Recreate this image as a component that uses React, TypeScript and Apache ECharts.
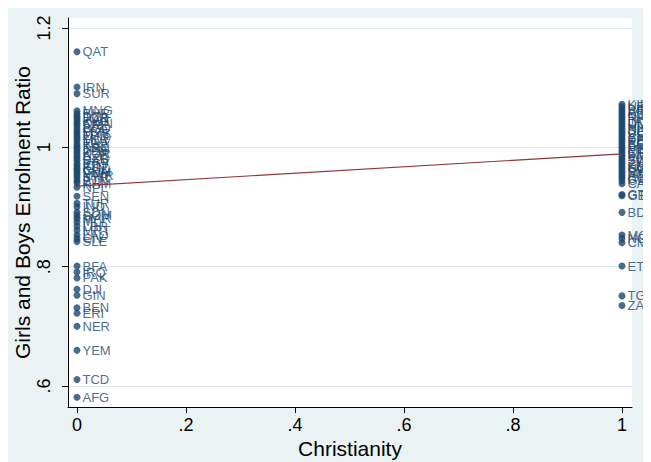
import React, { useEffect, useRef } from "react";
import * as echarts from "echarts";

// Countries with Christianity = 0
const namesNonChristian = [
  "QAT", "IRN", "SUR", "MNG", "BHR", "DZA", "JOR", "KWT", "OMN", "ARE", "BGD", "LBN", "MYS",
  "TUN", "LKA", "MDV", "THA", "KAZ", "BRN", "JPN", "KOR", "AZE", "UZB", "SAU", "EGY", "IDN",
  "KGZ", "CHN", "VNM", "MMR", "SYR", "BTN", "KHM", "NPL", "SEN", "TUR", "IND", "SDN", "SOM",
  "MAR", "MLI", "LBR", "MRT", "LAO", "CIV", "SLE", "BFA", "IRQ", "PAK", "DJI", "GIN", "BEN",
  "ERI", "NER", "YEM", "TCD", "AFG",
];
const ratioNonChristian = [
  1.160, 1.101, 1.090, 1.061, 1.056, 1.052, 1.048, 1.044, 1.040, 1.036, 1.031, 1.027, 1.023,
  1.019, 1.015, 1.011, 1.006, 1.002, 0.998, 0.994, 0.990, 0.986, 0.982, 0.978, 0.973, 0.969,
  0.965, 0.961, 0.957, 0.953, 0.949, 0.944, 0.940, 0.933, 0.918, 0.906, 0.900, 0.891, 0.886,
  0.881, 0.875, 0.868, 0.861, 0.853, 0.847, 0.842, 0.801, 0.791, 0.781, 0.762, 0.752, 0.731,
  0.722, 0.700, 0.660, 0.611, 0.581,
];

// Countries with Christianity = 1
const namesChristian = [
  "KIR", "URY", "BRA", "ARG", "LSO", "NAM", "PHL", "JAM", "DOM", "HND", "NIC", "SLV", "COL",
  "VEN", "CHL", "PER", "ECU", "BOL", "PRY", "MEX", "CRI", "FJI", "PNG", "SWZ", "ZWE", "ZMB",
  "KEN", "UGA", "RWA", "MDG", "AGO", "COG", "GAB", "CAF", "GTM", "GEO", "BDI", "MOZ", "NGA",
  "CMR", "ETH", "TGO", "ZAF",
];
const ratioChristian = [
  1.072, 1.068, 1.064, 1.060, 1.056, 1.052, 1.048, 1.044, 1.040, 1.036, 1.032, 1.028, 1.024,
  1.020, 1.016, 1.012, 1.008, 1.004, 1.000, 0.996, 0.992, 0.988, 0.984, 0.980, 0.976, 0.972,
  0.968, 0.964, 0.960, 0.956, 0.952, 0.948, 0.944, 0.939, 0.921, 0.919, 0.891, 0.853, 0.847,
  0.840, 0.801, 0.751, 0.735,
];

// Linear fit endpoints (x = 0 and x = 1)
const fitX = [0, 1];
const fitY = [0.935, 0.989];

const xTickValues = [0, 0.2, 0.4, 0.6, 0.8, 1];
const xTickLabels = ["0", ".2", ".4", ".6", ".8", "1"];
const yTickValues = [0.6, 0.8, 1, 1.2];
const yTickLabels = [".6", ".8", "1", "1.2"];

const NAVY = "#1a476f";
const MAROON = "#90353b";
const FONT = "Liberation Sans, Arial, Helvetica, sans-serif";

function lookup(values: number[], labels: string[], v: number) {
  for (let i = 0; i < values.length; i++) {
    if (Math.abs(values[i] - v) < 1e-6) return labels[i];
  }
  return "";
}

export default function App() {
  const ref = useRef<HTMLDivElement>(null);
  useEffect(() => {
    if (!ref.current) return;
    const chart = echarts.init(ref.current, undefined, { renderer: "svg" });
    const scatterData = (xv: number, names: string[], vals: number[]) =>
      names.map((n, i) => ({ name: n, value: [xv, vals[i]] }));
    const markerLabel = {
      show: true,
      position: "right",
      distance: 2,
      formatter: "{b}",
      color: NAVY,
      fontSize: 13,
      fontFamily: FONT,
    };
    chart.setOption({
      animation: false,
      backgroundColor: "#eaf2f3",
      textStyle: { fontFamily: FONT },
      grid: {
        left: 60,
        right: 19,
        top: 10,
        bottom: 55,
        show: true,
        backgroundColor: "#ffffff",
        borderWidth: 0,
        containLabel: false,
        outerBoundsMode: "none",
      },
      xAxis: {
        type: "value",
        min: -0.0165,
        max: 1.0184,
        name: "Christianity",
        nameLocation: "middle",
        nameGap: 31,
        nameMoveOverlap: false,
        nameTextStyle: { fontSize: 21, color: "#000", fontFamily: FONT },
        axisLine: { show: true, onZero: false, lineStyle: { color: "#000", width: 1 } },
        axisTick: {
          show: true,
          length: 6,
          customValues: xTickValues,
          lineStyle: { color: "#000" },
        },
        axisLabel: {
          customValues: xTickValues,
          fontSize: 18,
          color: "#000",
          margin: 9,
          fontFamily: FONT,
          formatter: (v: number) => lookup(xTickValues, xTickLabels, v),
        },
        splitLine: { show: false },
      },
      yAxis: {
        type: "value",
        min: 0.5648,
        max: 1.2167,
        name: "Girls and Boys Enrolment Ratio",
        nameLocation: "middle",
        nameRotate: 90,
        nameGap: 35,
        nameMoveOverlap: false,
        nameTextStyle: { fontSize: 21, color: "#000", fontFamily: FONT },
        axisLine: { show: true, onZero: false, lineStyle: { color: "#000", width: 1 } },
        axisTick: {
          show: true,
          length: 6,
          customValues: yTickValues,
          lineStyle: { color: "#000" },
        },
        axisLabel: {
          customValues: yTickValues,
          rotate: 90,
          fontSize: 18,
          color: "#000",
          margin: 15,
          fontFamily: FONT,
          formatter: (v: number) => lookup(yTickValues, yTickLabels, v),
        },
        splitLine: { show: true, lineStyle: { color: "#dfe9ec", width: 1 } },
      },
      series: [
        {
          type: "scatter",
          symbolSize: 7,
          itemStyle: { color: NAVY },
          label: markerLabel,
          data: scatterData(0, namesNonChristian, ratioNonChristian),
        },
        {
          type: "scatter",
          symbolSize: 7,
          itemStyle: { color: NAVY },
          label: markerLabel,
          data: scatterData(1, namesChristian, ratioChristian),
        },
        {
          type: "line",
          showSymbol: false,
          symbol: "none",
          lineStyle: { color: MAROON, width: 1.2 },
          data: fitX.map((x, i) => [x, fitY[i]]),
          z: 3,
        },
      ],
    });
    return () => chart.dispose();
  }, []);
  return <div ref={ref} style={{ width: 643, height: 454 }} />;
}
